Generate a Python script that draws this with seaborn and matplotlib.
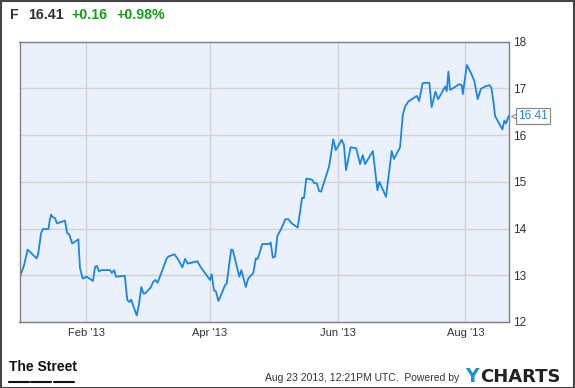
import matplotlib
matplotlib.use("Agg")
import matplotlib.pyplot as plt
import matplotlib.transforms as mtransforms
import seaborn as sns
import pandas as pd
from matplotlib.lines import Line2D
from matplotlib.patches import Rectangle

# ---- data ----
start_date = "2012-12-31"
day_offsets = [
    0.1, 2.2, 3.9, 8.2, 9.0, 10.3, 11.2, 13.8, 14.4, 15.1, 15.7, 17.0, 17.9,
    21.7, 22.8, 23.7, 25.2, 28.1, 28.9, 30.2, 32.1, 35.1, 36.1, 37.0, 38.0,
    38.9, 43.2, 44.1, 45.2, 46.1, 50.3, 51.5, 52.5, 53.3, 56.0, 57.0, 58.2,
    59.2, 60.0, 62.7, 63.9, 64.9, 66.0, 67.9, 70.3, 71.1, 74.0, 75.9, 77.8,
    79.1, 80.4, 85.0, 86.2, 90.2, 91.0, 91.8, 92.9, 93.9, 95.0, 96.6, 98.2,
    99.0, 101.1, 101.9, 105.0, 106.0, 108.1, 109.3, 111.7, 112.9, 113.8,
    116.0, 119.4, 120.0, 121.0, 122.1, 123.2, 125.3, 127.0, 128.4, 130.1,
    132.9, 135.0, 135.9, 137.0, 139.6, 140.9, 142.0, 143.2, 144.1, 147.9,
    149.9, 151.1, 153.9, 155.0, 156.0, 158.2, 160.8, 162.7, 164.0, 165.1,
    168.8, 171.0, 171.9, 175.1, 177.8, 178.9, 181.8, 183.1, 184.2, 185.8,
    189.8, 190.9, 192.6, 193.7, 195.8, 196.9, 198.7, 200.0, 202.5, 203.3,
    204.1, 204.9, 205.7, 207.0, 210.1, 211.3, 211.8, 213.7, 215.6, 217.3,
    218.9, 220.4, 222.4, 224.5, 225.4, 226.4, 227.2, 228.3, 230.7, 231.6,
    232.4, 233.7,
]
prices = [
    12.95, 13.22, 13.55, 13.36, 13.48, 13.90, 13.99, 13.99, 14.17, 14.30, 14.25, 14.22, 14.11,
    14.17, 13.90, 13.88, 13.68, 13.77, 13.15, 12.93, 12.97, 12.88, 13.18, 13.20, 13.08,
    13.11, 13.11, 13.05, 13.11, 12.97, 12.99, 12.47, 12.43, 12.48, 12.14, 12.36, 12.75,
    12.61, 12.61, 12.74, 12.86, 12.90, 12.84, 13.07, 13.36, 13.40, 13.45, 13.33, 13.17,
    13.35, 13.25, 13.30, 13.20, 12.95, 12.90, 13.02, 12.68, 12.65, 12.45, 12.61, 12.79,
    12.82, 13.55, 13.54, 12.97, 13.11, 12.75, 12.93, 13.05, 13.36, 13.35,
    13.67, 13.67, 13.70, 13.38, 13.40, 13.84, 14.02, 14.20, 14.20, 14.11,
    14.02, 14.66, 14.65, 15.07, 15.05, 14.97, 14.97, 14.80, 14.79, 15.33,
    15.91, 15.68, 15.90, 15.79, 15.25, 15.74, 15.72, 15.38, 15.57, 15.38,
    15.66, 14.82, 15.00, 14.68, 15.66, 15.49, 15.74, 16.43, 16.61, 16.72,
    16.84, 16.73, 17.11, 17.12, 17.12, 16.60, 16.93, 16.77, 16.97, 17.04,
    16.94, 17.36, 16.97, 17.00, 17.09, 17.07, 16.88, 17.50, 17.34, 17.16,
    16.77, 16.99, 17.04, 17.07, 17.02, 16.72, 16.41, 16.32, 16.12, 16.31,
    16.25, 16.41,
]
x_tick_dates = ["2013-02-01", "2013-04-01", "2013-06-01", "2013-08-01"]
x_tick_labels = ["Feb '13", "Apr '13", "Jun '13", "Aug '13"]
y_ticks = [12, 13, 14, 15, 16, 17, 18]
ticker = "F"
last_price = "16.41"
change = "+0.16"
change_pct = "+0.98%"
footer_text = "Aug 23 2013, 12:21PM UTC.  Powered by"

# ---- build frame ----
dates = pd.Timestamp(start_date) + pd.to_timedelta(day_offsets, unit="D")
df = pd.DataFrame({"date": dates, "price": prices})

sns.set_style("white")
plt.rcParams["font.family"] = ["Liberation Sans", "DejaVu Sans"]

W, H = 575, 388
fig = plt.figure(figsize=(W / 100, H / 100), dpi=100)
fig.patch.set_facecolor("white")

ax = fig.add_axes([19.5 / W, 1 - 322 / H, (509.3 - 19.5) / W, (322 - 41.7) / H])
ax.set_facecolor("#eaf1fc")

sns.lineplot(data=df, x="date", y="price", ax=ax, color="#1a87e0", linewidth=1.3)

ax.set_xlim(pd.Timestamp(start_date), pd.Timestamp(start_date) + pd.Timedelta(days=234))
ax.set_ylim(min(y_ticks), max(y_ticks))

ax.set_xticks(pd.to_datetime(x_tick_dates))
ax.set_xticklabels(x_tick_labels)
ax.set_yticks(y_ticks)
ax.set_yticklabels([str(v) for v in y_ticks])
ax.yaxis.tick_right()
ax.tick_params(axis="both", length=0, colors="#333333")
ax.tick_params(axis="x", labelsize=8, pad=4)
ax.tick_params(axis="y", labelsize=8.5, pad=3)
ax.set_xlabel("")
ax.set_ylabel("")
ax.grid(True, color="#d2d2d2", linewidth=1.0)
ax.set_axisbelow(True)
for s in ax.spines.values():
    s.set_visible(True)
    s.set_color("#7f7f7f")
    s.set_linewidth(1.0)

# last price tag
ax.annotate(last_price, xy=(df["date"].iloc[-1], prices[-1]), xytext=(7, 0),
            textcoords="offset points", va="center", ha="left", fontsize=8.5,
            color="#1a87e0", annotation_clip=False,
            bbox=dict(boxstyle="square,pad=0.18", fc="white", ec="#8a8a8a", lw=0.9))
ax.plot([df["date"].iloc[-1]], [prices[-1]], marker="<", markersize=5,
        markerfacecolor="white", markeredgecolor="#8a8a8a", markeredgewidth=0.8,
        clip_on=False,
        transform=ax.transData + mtransforms.ScaledTranslation(4 / 72, 0, fig.dpi_scale_trans))

# title
y_title = 1 - 15 / H
fs_t = 10.2
fig.text(10 / W, y_title, ticker, fontsize=fs_t, fontweight="bold", color="#333333", va="center")
fig.text(28 / W, y_title, last_price, fontsize=fs_t, fontweight="bold", color="#333333", va="center")
fig.text(71 / W, y_title, change, fontsize=fs_t, fontweight="bold", color="#14a014", va="center")
fig.text(116 / W, y_title, change_pct, fontsize=fs_t, fontweight="bold", color="#14a014", va="center")

# footer
fig.text(9 / W, 1 - 367 / H, "The Street", fontsize=10, fontweight="bold",
         family=["Liberation Sans Narrow", "Liberation Sans", "DejaVu Sans"],
         color="#111111", va="center", ha="left")
for x0, x1 in [(9, 29), (31, 51), (54, 74)]:
    fig.add_artist(Line2D([x0 / W, x1 / W], [1 - 381.5 / H] * 2, color="#111111", lw=1.5))

fig.text(459 / W, 1 - 378 / H, footer_text, fontsize=7.5, color="#333333", va="center", ha="right")
fig.text(465 / W, 1 - 377 / H, "Y", fontsize=13.5, fontweight="bold", color="#1a8fd8",
         family=["DejaVu Sans"], va="center", ha="left")
fig.text(480 / W, 1 - 377 / H, "CHARTS", fontsize=13, fontweight="bold", color="#222222",
         family=["DejaVu Sans"], va="center", ha="left")

# outer frame
fig.add_artist(Rectangle((0.5 / W, 0.5 / H), 1 - 1.5 / W, 1 - 1.5 / H, transform=fig.transFigure,
                         fill=False, ec="#444444", lw=1.5))

fig.savefig("out.png", dpi=100)
